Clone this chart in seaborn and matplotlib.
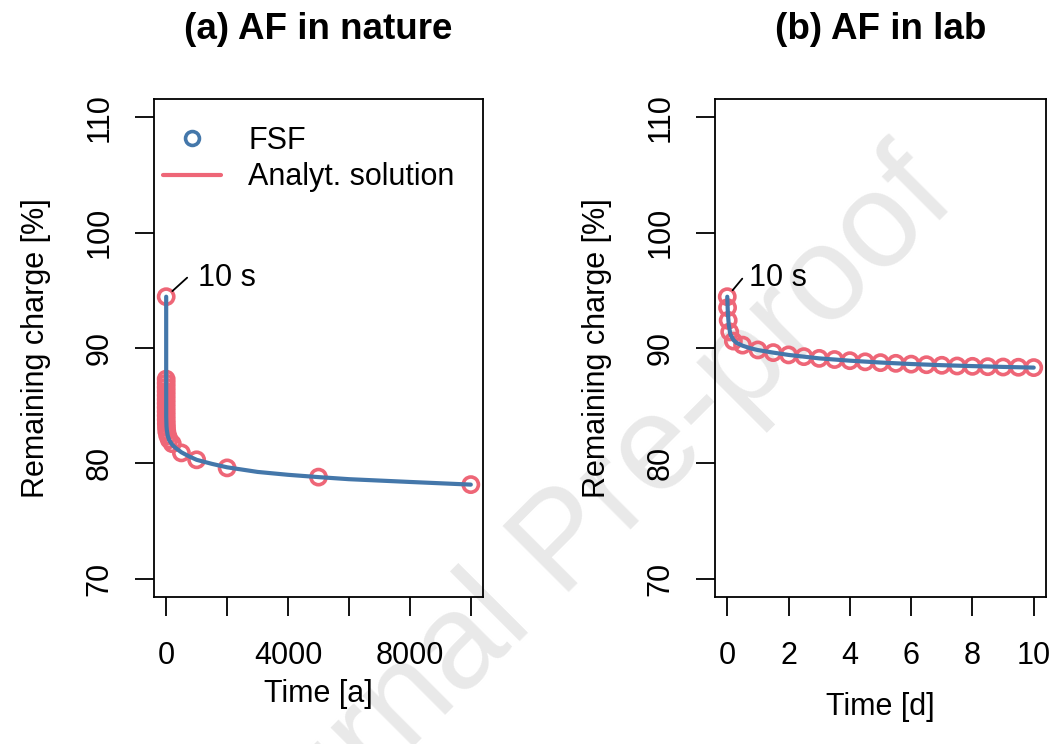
import numpy as np
import pandas as pd
import matplotlib
matplotlib.use("Agg")
import matplotlib.pyplot as plt
from matplotlib.lines import Line2D
import seaborn as sns

sns.set_style("white")
plt.rcParams['font.family'] = ['Liberation Sans', 'DejaVu Sans']
plt.rcParams['text.color'] = 'black'
plt.rcParams['axes.labelcolor'] = 'black'
plt.rcParams['xtick.color'] = 'black'
plt.rcParams['ytick.color'] = 'black'
plt.rcParams['axes.titlecolor'] = 'black'

BLUE = "#4477AA"
RED = "#EE6677"

# ---------------- data: (a) AF in nature, time in years ----------------
nat_pts_t = [3.17e-7, 0.001, 0.002, 0.005, 0.01, 0.02, 0.05, 0.1, 0.2, 0.5,
             1, 2, 5, 10, 20, 50, 100, 200, 500, 1000, 2000, 5000, 10000]
nat_pts_y = [94.45, 87.3, 86.95, 86.6, 86.25, 85.9, 85.55, 85.2, 84.85, 84.5,
             84.15, 83.8, 83.45, 83.1, 82.75, 82.4, 82.05, 81.7, 80.9, 80.3,
             79.6, 78.8, 78.15]
nat_line_t = [3.17e-7, 0.001, 1, 10, 20, 50, 100, 200, 300, 500, 750, 1000,
              1500, 2000, 3000, 4000, 5000, 6000, 8000, 10000]
nat_line_y = [94.45, 87.0, 84.0, 83.2, 82.9, 82.4, 82.0, 81.6, 81.35, 80.95,
              80.6, 80.3, 79.95, 79.65, 79.25, 79.0, 78.8, 78.62, 78.38, 78.15]

# ---------------- data: (b) AF in lab, time in days ----------------
lab_pts_t = [1.16e-4, 0.01, 0.03, 0.08, 0.2, 0.5, 1.0, 1.5, 2.0, 2.5, 3.0, 3.5,
             4.0, 4.5, 5.0, 5.5, 6.0, 6.5, 7.0, 7.5, 8.0, 8.5, 9.0, 9.5, 10.0]
lab_pts_y = [94.45, 93.5, 92.4, 91.4, 90.6, 90.25, 89.83, 89.6, 89.4, 89.25,
             89.1, 89.0, 88.9, 88.8, 88.73, 88.67, 88.6, 88.55, 88.5, 88.44,
             88.41, 88.38, 88.35, 88.33, 88.3]
lab_line_t = [1.16e-4, 0.02, 0.05, 0.1, 0.2, 0.3, 0.5, 0.75, 1, 1.5, 2, 3, 4,
              5, 6, 7, 8, 9, 10]
lab_line_y = [94.45, 93.0, 92.0, 91.2, 90.7, 90.45, 90.2, 89.98, 89.82, 89.6,
              89.4, 89.1, 88.9, 88.74, 88.61, 88.51, 88.43, 88.36, 88.3]

titles = ["(a) AF in nature", "(b) AF in lab"]
xlabels = ["Time [a]", "Time [d]"]
ylabel = "Remaining charge [%]"
legend_labels = ["FSF", "Analyt. solution"]
ann_text = "10 s"

yticks = [70, 80, 90, 100, 110]
xticks_nat = [0, 2000, 4000, 6000, 8000, 10000]
xticklabels_nat = ["0", "", "4000", "", "8000", ""]
xticks_lab = [0, 2, 4, 6, 8, 10]

FS = 22

fig = plt.figure(figsize=(10.51, 7.44), dpi=100)
fig.patch.set_facecolor("white")

W, H = 1051, 744
ax1 = fig.add_axes([154 / W, 1 - 597 / H, 329 / W, 498 / H])
ax2 = fig.add_axes([715 / W, 1 - 597 / H, 331 / W, 498 / H])

# watermark behind
fig.text(0.538, 1 - 545 / H, "Journal Pre-proof", rotation=45, fontsize=97,
         color="#e9e9e9", ha="center", va="center", zorder=-1)

panels = [
    (ax1, nat_pts_t, nat_pts_y, nat_line_t, nat_line_y, (-400, 10400),
     xticks_nat, xticklabels_nat),
    (ax2, lab_pts_t, lab_pts_y, lab_line_t, lab_line_y, (-0.4, 10.4),
     xticks_lab, [str(v) for v in xticks_lab]),
]

for i, (ax, pt, py, lt, ly, xlim, xt, xtl) in enumerate(panels):
    ax.set_facecolor("none")
    dpts = pd.DataFrame({"t": pt, "y": py})
    dline = pd.DataFrame({"t": lt, "y": ly})
    sns.scatterplot(data=dpts, x="t", y="y", ax=ax, s=120, marker="o",
                    facecolors="none", edgecolor=RED, linewidths=2.6,
                    zorder=2, legend=False)
    sns.lineplot(data=dline, x="t", y="y", ax=ax, color=BLUE, lw=3.0,
                 sort=False, estimator=None, zorder=3, legend=False)

    ax.set_xlim(*xlim)
    ax.set_ylim(68.4, 111.6)
    ax.set_xticks(xt)
    ax.set_xticklabels(xtl)
    ax.set_yticks(yticks)
    ax.set_yticklabels([str(v) for v in yticks], rotation=90, va="center")
    ax.tick_params(axis="x", which="major", direction="out", length=13.5,
                   width=1.3, labelsize=FS, pad=18, color="black",
                   labelcolor="black", bottom=True, top=False)
    ax.tick_params(axis="y", which="major", direction="out", length=13.5,
                   width=1.3, labelsize=FS, pad=15, color="black",
                   labelcolor="black", left=True, right=False)
    for sp in ax.spines.values():
        sp.set_visible(True)
        sp.set_color("black")
        sp.set_linewidth(1.3)

    ax.set_title(titles[i], fontsize=26.5, fontweight="bold", pad=43,
                 color="black")
    ax.set_ylabel(ylabel, fontsize=FS, labelpad=24, color="black")
    ax.set_xlabel(xlabels[i], fontsize=FS, labelpad=(6 if i == 0 else 15),
                  color="black")

# annotations "10 s"
ax1.annotate("", xy=(nat_pts_t[0], nat_pts_y[0]), xytext=(15.1, 13.7),
             textcoords="offset points",
             arrowprops=dict(arrowstyle="-", shrinkA=0, shrinkB=6, lw=1.3,
                             color="black"))
ax1.annotate(ann_text, xy=(nat_pts_t[0], nat_pts_y[0]), xytext=(23, 13.7),
             textcoords="offset points", ha="left", va="center", fontsize=FS,
             color="black")
ax2.annotate("", xy=(lab_pts_t[0], lab_pts_y[0]), xytext=(10.8, 13),
             textcoords="offset points",
             arrowprops=dict(arrowstyle="-", shrinkA=0, shrinkB=6, lw=1.3,
                             color="black"))
ax2.annotate(ann_text, xy=(lab_pts_t[0], lab_pts_y[0]), xytext=(15.8, 13.7),
             textcoords="offset points", ha="left", va="center", fontsize=FS,
             color="black")

# legend (as in the original: blue circle = FSF, red line = Analyt. solution)
handles = [
    Line2D([], [], marker="o", linestyle="none", markerfacecolor="none",
           markeredgecolor=BLUE, markeredgewidth=2.6, markersize=10),
    Line2D([], [], color=RED, lw=3.0),
]
leg = ax1.legend(handles, legend_labels, loc="upper left", frameon=False,
                 fontsize=FS, handlelength=1.9, handletextpad=0.9,
                 labelspacing=0.2, borderaxespad=0.0,
                 bbox_to_anchor=(-0.01, 0.97))
for txt in leg.get_texts():
    txt.set_color("black")

fig.savefig("out.png", dpi=100, facecolor="white")
